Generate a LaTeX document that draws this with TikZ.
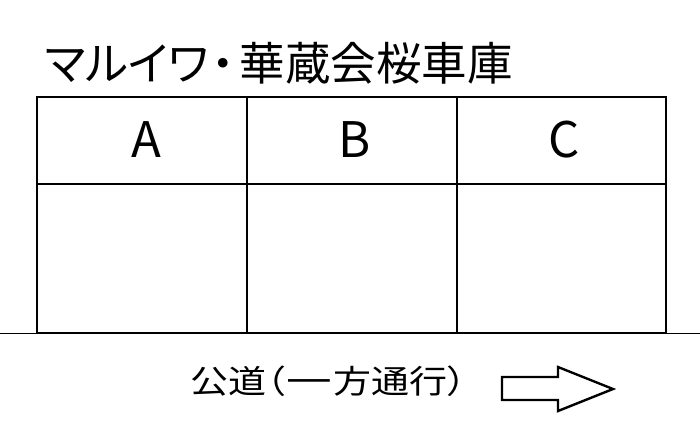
\documentclass[tikz,border=0pt]{standalone}
\usepackage{graphicx}
\usepackage{fontspec}
\setmainfont{Noto Sans CJK JP}
\newfontfamily\jpfont{Noto Sans CJK JP}
\newfontfamily\jppalt[RawFeature=+palt]{Noto Sans CJK JP}
\begin{document}
\begin{tikzpicture}[x=1pt,y=-1pt,
  wall/.style={line width=1.8pt,black},
  lbl/.style={inner sep=0pt,font=\jpfont\fontsize{49}{49}\selectfont},
  ttl/.style={inner sep=0pt,anchor=west,font=\jppalt\fontsize{45.5}{45.5}\selectfont},
  road/.style={inner sep=0pt,anchor=west,font=\jppalt\fontsize{38}{38}\selectfont},
  arrowshape/.style={line width=2.4pt,black,fill=white,line join=miter}]
\useasboundingbox (0,0) rectangle (700,437);
% table
\coordinate (tl) at (37,97);
\coordinate (br) at (666,333);
\draw[wall] (tl) rectangle (br);
\draw[wall] (37,184) -- (666,184);
\draw[wall] (247,97) -- (247,333);
\draw[wall] (457,97) -- (457,333);
% road line
\coordinate (rl) at (0,333.5);
\coordinate (rr) at (700,333.5);
\draw[wall] (rl) -- (rr);
% labels
\node[lbl] (A) at (146,140) {A};
\node[lbl] (B) at (355,140) {B};
\node[lbl] (C) at (564,140) {C};
\node[ttl] (title) at (45,63) {マルイワ\kern3pt・\kern5pt華蔵会桜車庫};
\node[road] (roadtxt) at (190,381) {\scalebox{1}[0.85]{公道（\kern1pt\scalebox{1.2}[1]{一}\kern2pt方通行）}};
% arrow
\draw[arrowshape] (502,377) -- (558,377) -- (558,367) -- (613,389) -- (558,411) -- (558,400) -- (502,400) -- cycle;
\end{tikzpicture}
\end{document}
